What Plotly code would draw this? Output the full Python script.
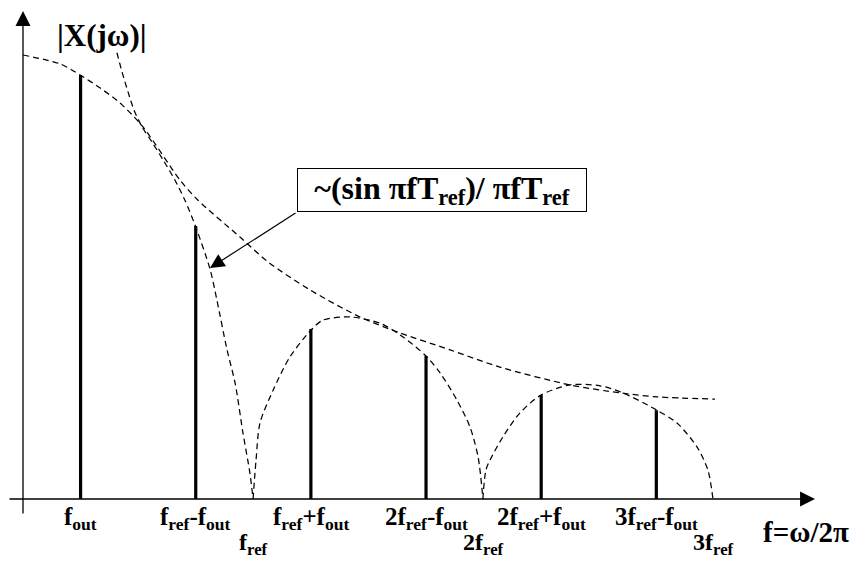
import plotly.graph_objects as go

# Frequencies are in units of f_ref, amplitudes normalised to |X(0)| = 1
line_freqs = [0.25, 0.75, 1.25, 1.75, 2.25, 2.75]
line_heights = [0.955, 0.615, 0.383, 0.322, 0.234, 0.200]
line_labels = [
    "f<sub>out</sub>",
    "f<sub>ref</sub>-f<sub>out</sub>",
    "f<sub>ref</sub>+f<sub>out</sub>",
    "2f<sub>ref</sub>-f<sub>out</sub>",
    "2f<sub>ref</sub>+f<sub>out</sub>",
    "3f<sub>ref</sub>-f<sub>out</sub>",
]
zero_freqs = [1.0, 2.0, 3.0]
zero_labels = ["f<sub>ref</sub>", "2f<sub>ref</sub>", "3f<sub>ref</sub>"]

# upper dashed envelope
env_x = [0.000, 0.161, 0.248, 0.334, 0.421, 0.521, 0.682, 0.760, 0.942, 1.064,
         1.246, 1.463, 1.637, 1.854, 2.071, 2.375, 2.592, 2.753, 3.005]
env_y = [1.000, 0.980, 0.955, 0.926, 0.892, 0.838, 0.718, 0.673, 0.590, 0.534,
         0.471, 0.410, 0.374, 0.336, 0.297, 0.257, 0.239, 0.230, 0.225]

# sin(pi f T_ref)/(pi f T_ref) lobes
lobe1_x = [0.408, 0.430, 0.456, 0.482, 0.517, 0.560, 0.608, 0.660, 0.703, 0.747,
           0.812, 0.842, 0.886, 0.921, 0.955, 0.985, 0.999]
lobe1_y = [1.005, 0.962, 0.917, 0.876, 0.838, 0.804, 0.764, 0.718, 0.673, 0.617,
           0.518, 0.448, 0.336, 0.261, 0.149, 0.059, 0.000]
lobe2_x = [0.999, 1.012, 1.029, 1.086, 1.159, 1.255, 1.303, 1.420, 1.550, 1.650,
           1.750, 1.811, 1.884, 1.941, 1.976, 1.997]
lobe2_y = [0.000, 0.088, 0.171, 0.245, 0.320, 0.383, 0.403, 0.410, 0.396, 0.365,
           0.322, 0.284, 0.223, 0.162, 0.095, 0.000]
lobe3_x = [1.997, 2.010, 2.028, 2.084, 2.158, 2.249, 2.375, 2.505, 2.605, 2.753,
           2.840, 2.927, 2.974, 2.996]
lobe3_y = [0.000, 0.065, 0.088, 0.140, 0.194, 0.234, 0.257, 0.255, 0.239, 0.200,
           0.171, 0.117, 0.065, 0.000]

FONT = "Liberation Serif"
W, H = 856, 561
PX_X = 230.3          # pixels per f_ref
PX_Y = 444.0          # pixels per unit amplitude
X0_PX, Y0_PX = 23, 499

x_range = [-X0_PX / PX_X, (W - X0_PX) / PX_X]
y_range = [-(H - Y0_PX) / PX_Y, Y0_PX / PX_Y]

fig = go.Figure()

dash_style = dict(color="black", width=1.25, dash="6px,4px")
for xs, ys in [(env_x, env_y), (lobe1_x, lobe1_y), (lobe2_x, lobe2_y), (lobe3_x, lobe3_y)]:
    fig.add_trace(go.Scatter(x=xs, y=ys, mode="lines", line=dict(shape="spline", smoothing=0.8, **dash_style),
                             hoverinfo="skip", showlegend=False))

# spectral lines
sx, sy = [], []
for f, h in zip(line_freqs, line_heights):
    sx += [f, f, None]
    sy += [0, h, None]
fig.add_trace(go.Scatter(x=sx, y=sy, mode="lines", line=dict(color="black", width=3.2),
                         hoverinfo="skip", showlegend=False))

ann = []
# axes drawn as arrows
x_tip = (815 - X0_PX) / PX_X
ann.append(dict(x=x_tip, y=0, xref="x", yref="y", text="", showarrow=True,
                ax=-(815 - 8), ay=0, axref="pixel", ayref="pixel",
                arrowhead=2, arrowsize=2.3, arrowwidth=1.3, arrowcolor="black", standoff=0))
y_tip = (Y0_PX - 11) / PX_Y
ann.append(dict(x=0, y=y_tip, xref="x", yref="y", text="", showarrow=True,
                ax=0, ay=(515 - 11), arrowhead=2, arrowsize=2.3, arrowwidth=1.3,
                arrowcolor="black", standoff=0))

lab_font = dict(family=FONT, size=25, color="black")
for f, t in zip(line_freqs, line_labels):
    ann.append(dict(x=f, y=0, xref="x", yref="y", text="<b>" + t + "</b>", showarrow=False,
                    yanchor="top", yshift=-2, font=lab_font))
for f, t in zip(zero_freqs, zero_labels):
    ann.append(dict(x=f, y=0, xref="x", yref="y", text="<b>" + t + "</b>", showarrow=False,
                    yanchor="top", yshift=-29, borderpad=0,
                    font=dict(family=FONT, size=24, color="black")))

ann.append(dict(x=(806 - X0_PX) / PX_X, y=0, xref="x", yref="y", text="<b>f=ω/2π</b>",
                showarrow=False, yanchor="middle", yshift=-33,
                font=dict(family=FONT, size=29, color="black")))
ann.append(dict(x=(102 - X0_PX) / PX_X, y=(Y0_PX - 35) / PX_Y, xref="x", yref="y",
                text="<b>|X(jω)|</b>", showarrow=False,
                font=dict(family=FONT, size=31, color="black")))

# formula box with pointer
ann.append(dict(x=(442 - X0_PX) / PX_X, y=(Y0_PX - 190) / PX_Y, xref="x", yref="y",
                text="<b>~(sin πfT<sub>ref</sub>)/ πfT<sub>ref</sub></b>", showarrow=False,
                width=288, height=42, bgcolor="white", bordercolor="black", borderwidth=1,
                borderpad=0, font=dict(family=FONT, size=32, color="black")))
ann.append(dict(x=(210 - X0_PX) / PX_X, y=(Y0_PX - 268) / PX_Y, xref="x", yref="y",
                text="", showarrow=True, ax=297 - 210, ay=212 - 268,
                arrowhead=2, arrowsize=2.4, arrowwidth=1.2, arrowcolor="black", standoff=0))

fig.update_layout(
    width=W, height=H, margin=dict(l=0, r=0, t=0, b=0),
    paper_bgcolor="white", plot_bgcolor="white",
    xaxis=dict(range=x_range, visible=False, fixedrange=True),
    yaxis=dict(range=y_range, visible=False, fixedrange=True),
    annotations=ann, showlegend=False,
)

fig.write_html("out.html")
